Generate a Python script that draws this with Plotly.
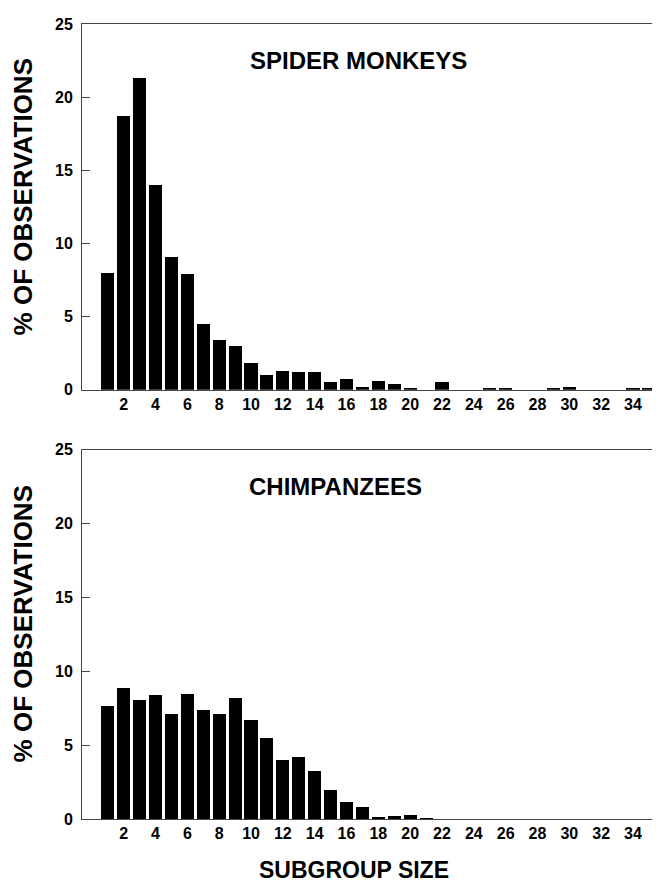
import plotly.graph_objects as go

sizes = list(range(1, 36))
spider_monkeys = [8.0, 18.7, 21.3, 14.0, 9.1, 7.9, 4.5, 3.4, 3.0, 1.8,
                  1.0, 1.3, 1.2, 1.2, 0.5, 0.7, 0.2, 0.6, 0.4, 0.1,
                  0, 0.5, 0, 0, 0.1, 0.1, 0, 0, 0.1, 0.2,
                  0, 0, 0, 0.1, 0.1]
chimpanzees = [7.7, 8.9, 8.1, 8.4, 7.1, 8.5, 7.4, 7.1, 8.2, 6.7,
               5.5, 4.0, 4.2, 3.3, 2.0, 1.2, 0.8, 0.15, 0.2, 0.3,
               0.1, 0, 0, 0, 0, 0, 0, 0, 0, 0,
               0, 0, 0, 0, 0]
x_ticks = list(range(2, 35, 2))
y_ticks = [0, 5, 10, 15, 20, 25]

FONT = "Liberation Sans"
fig = go.Figure()
fig.add_trace(go.Bar(x=sizes, y=spider_monkeys, width=0.82, marker=dict(color="black", line=dict(width=0)),
                     xaxis="x", yaxis="y", showlegend=False))
fig.add_trace(go.Bar(x=sizes, y=chimpanzees, width=0.82, marker=dict(color="black", line=dict(width=0)),
                     xaxis="x2", yaxis="y2", showlegend=False))

xa = dict(range=[-0.62, 36.2], tickvals=x_ticks, ticktext=[str(v) for v in x_ticks],
          showline=True, linecolor="#444", linewidth=1, mirror=True, ticks="",
          showgrid=False, zeroline=False, tickfont=dict(family=FONT, size=16, color="black", weight="bold"))
ya = dict(range=[0, 25], tickvals=y_ticks, showline=True, linecolor="#444", linewidth=1,
          ticks="inside", ticklen=8, tickcolor="#444", showgrid=False, zeroline=False,
          ticklabelstandoff=5,
          tickfont=dict(family=FONT, size=16, color="black", weight="bold"))

fig.update_layout(
    width=660, height=886,
    margin=dict(l=74, r=0, t=16, b=75),
    plot_bgcolor="white", paper_bgcolor="white",
    bargap=0,
    xaxis=dict(xa, domain=[0, 1], anchor="y"),
    yaxis=dict(ya, domain=[0.540, 1.0], anchor="x"),
    xaxis2=dict(xa, domain=[0, 1], anchor="y2"),
    yaxis2=dict(ya, domain=[0.0, 0.4645], anchor="x2"),
)

title_font = dict(family=FONT, size=24, color="black", weight="bold")
fig.add_annotation(text="SPIDER MONKEYS", x=0.283, y=0.9535, xref="paper", yref="paper",
                   xanchor="left", yanchor="middle", showarrow=False, font=title_font)
fig.add_annotation(text="CHIMPANZEES", x=0.281, y=0.4182, xref="paper", yref="paper",
                   xanchor="left", yanchor="middle", showarrow=False, font=title_font)
yt_font = dict(family=FONT, size=26, color="black", weight="bold")
fig.add_annotation(text="% OF OBSERVATIONS", x=-0.1, y=0.7824, xref="paper", yref="paper",
                   textangle=-90, xanchor="center", yanchor="middle", showarrow=False, font=yt_font)
fig.add_annotation(text="% OF OBSERVATIONS", x=-0.1, y=0.2453, xref="paper", yref="paper",
                   textangle=-90, xanchor="center", yanchor="middle", showarrow=False, font=yt_font)
fig.add_annotation(text="SUBGROUP SIZE", x=0.465, y=-0.064, xref="paper", yref="paper",
                   xanchor="center", yanchor="middle", showarrow=False, borderpad=0,
                   font=dict(family=FONT, size=23, color="black", weight="bold"))

fig.write_html("out.html")
